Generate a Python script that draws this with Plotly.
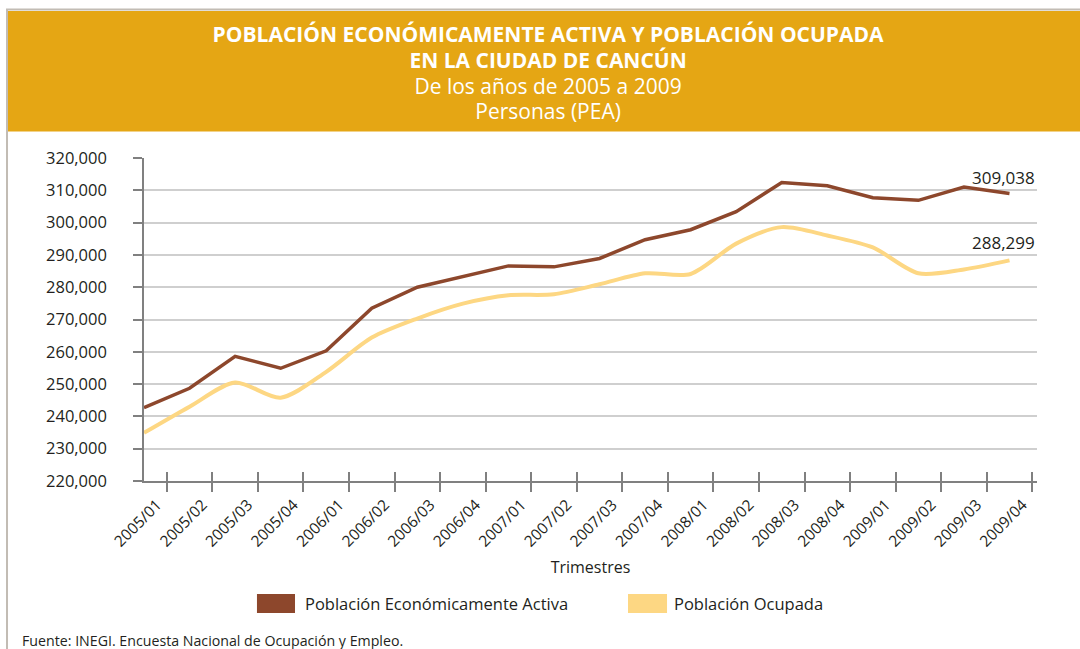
import plotly.graph_objects as go

quarters = ["2005/01", "2005/02", "2005/03", "2005/04",
            "2006/01", "2006/02", "2006/03", "2006/04",
            "2007/01", "2007/02", "2007/03", "2007/04",
            "2008/01", "2008/02", "2008/03", "2008/04",
            "2009/01", "2009/02", "2009/03", "2009/04"]
pea = [242700, 248700, 258600, 254900, 260300, 273500, 280000, 283400,
       286600, 286300, 288900, 294700, 297800, 303400, 312400, 311400,
       307700, 306900, 311000, 309038]
ocupada = [234900, 243000, 250500, 245800, 253800, 264400, 270300, 274900,
           277500, 277800, 280900, 284300, 284100, 293500, 298600, 296000,
           292300, 284300, 285500, 288299]
series_names = ["Población Económicamente Activa", "Población Ocupada"]

BROWN = "#8D472C"
YELLOW = "#FDD783"
GOLD = "#E5A614"
FONT = "Open Sans"
TXT = "#231f20"

fig = go.Figure()
fig.add_trace(go.Scatter(x=quarters, y=ocupada, mode="lines", name=series_names[1],
                         line=dict(color=YELLOW, width=4, shape="spline", smoothing=0.8),
                         showlegend=False))
fig.add_trace(go.Scatter(x=quarters, y=pea, mode="lines", name=series_names[0],
                         line=dict(color=BROWN, width=3.5), showlegend=False))
# invisible trace carrying the overlay axis used for the upper half of the x ticks
fig.add_trace(go.Scatter(x=quarters[:1], y=[None], mode="lines", xaxis="x2",
                         showlegend=False, hoverinfo="skip"))

fig.add_annotation(x=quarters[-1], y=pea[-1], text=f"{pea[-1]:,}", showarrow=False,
                   yshift=16, xshift=-6, font=dict(family=FONT, size=17, color=TXT))
fig.add_annotation(x=quarters[-1], y=ocupada[-1], text=f"{ocupada[-1]:,}", showarrow=False,
                   yshift=18, xshift=-6, font=dict(family=FONT, size=17, color=TXT))

# header band and frame
fig.add_shape(type="rect", xref="paper", yref="paper", x0=-0.1523, x1=1.06, y0=1.082, y1=1.4551,
              fillcolor=GOLD, line=dict(width=0), layer="below")
fig.add_shape(type="rect", xref="paper", yref="paper", x0=-0.1534, x1=1.2, y0=-1.0, y1=1.4598,
              fillcolor="rgba(0,0,0,0)", line=dict(color="#c2bcb4", width=2), layer="below")

# custom legend (rectangular swatches)
swatch_colors = [BROWN, YELLOW]
swatch_x = [(0.1265, 0.1691, 0.178), (0.542, 0.5857, 0.5913)]
for name, col, (xa, xb, xt) in zip(series_names, swatch_colors, swatch_x):
    fig.add_shape(type="rect", xref="paper", yref="paper", x0=xa, x1=xb, y0=-0.4087, y1=-0.3498,
                  fillcolor=col, line=dict(width=0))
    fig.add_annotation(xref="paper", yref="paper", x=xt, y=-0.3793, xanchor="left", yanchor="middle",
                       text=name, showarrow=False, font=dict(family=FONT, size=16.5, color=TXT))

fig.add_annotation(xref="paper", yref="paper", x=-0.1389, y=-0.4923, xanchor="left", yanchor="middle",
                   text="Fuente: INEGI. Encuesta Nacional de Ocupación y Empleo.", showarrow=False,
                   font=dict(family=FONT, size=14.2, color=TXT))

fig.update_layout(
    width=1080, height=649,
    paper_bgcolor="white", plot_bgcolor="white",
    margin=dict(l=144, r=43, t=158, b=168),
    font=dict(family=FONT, color=TXT),
    showlegend=False,
    title=dict(
        text="<span style='font-size:21px'><b>POBLACIÓN ECONÓMICAMENTE ACTIVA Y POBLACIÓN OCUPADA</b></span>"
             "<br><span style='font-size:21px'><b>EN LA CIUDAD DE CANCÚN</b></span>"
             "<br><span style='font-size:21px'>De los años de 2005 a 2009</span>"
             "<br><span style='font-size:21px'>Personas (PEA)</span>",
        x=0.5075, xanchor="center", y=0.935, yanchor="top",
        font=dict(family=FONT, size=19.8, color="white")),
    xaxis=dict(type="category", categoryorder="array", categoryarray=quarters,
               tickson="boundaries", ticks="outside", ticklen=9, tickcolor="#808080", tickwidth=1.5,
               showline=True, linecolor="#808080", linewidth=1.5, showgrid=False,
               tickangle=-45, ticklabelstandoff=7, ticklabelshift=13,
               tickfont=dict(family=FONT, size=15.5, color=TXT),
               title=dict(text="Trimestres", font=dict(family=FONT, size=16), standoff=12)),
    xaxis2=dict(type="category", categoryorder="array", categoryarray=quarters,
                matches="x", overlaying="x", anchor="y", side="bottom",
                tickson="boundaries", ticks="inside", ticklen=9, tickcolor="#808080", tickwidth=1.5,
                showticklabels=False, showgrid=False, showline=False),
    yaxis=dict(range=[220000, 320000], dtick=10000, tickformat=",",
               ticks="outside", ticklen=9, tickcolor="#808080", tickwidth=1.5,
               showline=True, linecolor="#808080", linewidth=1.5,
               gridcolor="#cfcfcf", gridwidth=1.5, zeroline=False,
               ticklabelstandoff=23, tickfont=dict(family=FONT, size=16.5, color=TXT)),
)

fig.write_html("out.html", config={"displayModeBar": False},
               post_script="document.body.style.margin='0';document.body.style.padding='0';")
